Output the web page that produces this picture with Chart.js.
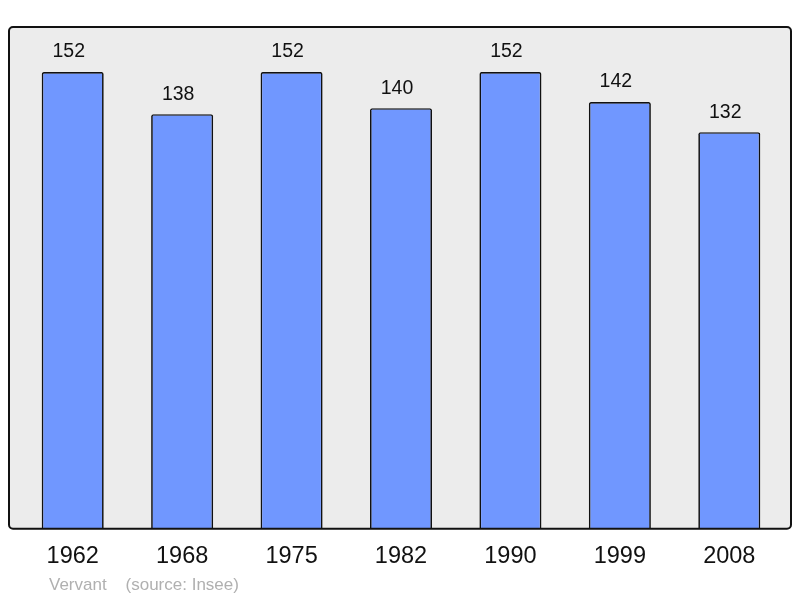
<!DOCTYPE html>
<html>
<head>
<meta charset="utf-8">
<script src="https://cdn.jsdelivr.net/npm/chart.js@4/dist/chart.umd.min.js"></script>
<style>
  body { margin: 0; background: #fff; }
</style>
</head>
<body>
<canvas id="popChart" width="800" height="598"></canvas>
<script>
// population data
const years = [ '1962', '1968', '1975', '1982', '1990', '1999', '2008' ];
const population = [ 152, 138, 152, 140, 152, 142, 132 ];
const yMax = 167;
const caption = 'Vervant    (source: Insee)';

// grey rounded frame behind the bars
const framePlugin = {
  id: 'frame',
  beforeDraw(chart) {
    const { ctx, chartArea } = chart;
    const x = chartArea.left - 9, y = chartArea.top;
    const w = chartArea.right - chartArea.left + 16, h = chartArea.bottom - chartArea.top;
    ctx.save();
    ctx.beginPath();
    ctx.roundRect(x, y, w, h, 4);
    ctx.fillStyle = '#ececec';
    ctx.fill();
    ctx.restore();
  },
  afterDatasetsDraw(chart) {
    const { ctx, chartArea } = chart;
    const x = chartArea.left - 9, y = chartArea.top;
    const w = chartArea.right - chartArea.left + 16, h = chartArea.bottom - chartArea.top;
    ctx.save();
    ctx.beginPath();
    ctx.roundRect(x, y, w, h, 4);
    ctx.lineWidth = 2;
    ctx.strokeStyle = '#111';
    ctx.stroke();
    // values above bars
    ctx.font = '19.5px "Liberation Sans", Arial, sans-serif';
    ctx.fillStyle = '#111';
    ctx.textAlign = 'center';
    ctx.textBaseline = 'middle';
    chart.getDatasetMeta(0).data.forEach((bar, i) => {
      ctx.fillText(population[ i ], bar.x - 4, bar.y - 20);
    });
    // source caption
    ctx.font = '17px "Liberation Sans", Arial, sans-serif';
    ctx.fillStyle = '#b0b0b0';
    ctx.textAlign = 'left';
    ctx.fillText(caption, chartArea.left + 31, 585);
    ctx.restore();
  }
};

const popChart = new Chart(document.getElementById('popChart'), {
  type: 'bar',
  data: {
    labels: years,
    datasets: [ {
      data: population,
      backgroundColor: '#7097ff',
      borderColor: '#111',
      borderWidth: 1.7,
      borderRadius: { topLeft: 2, topRight: 2 },
      borderSkipped: 'bottom',
      categoryPercentage: 1,
      barPercentage: 0.567
    } ]
  },
  options: {
    responsive: false,
    animation: false,
    layout: { padding: { left: 18, right: 16, top: 27, bottom: 21 } },
    plugins: {
      legend: { display: false },
      tooltip: { enabled: false }
    },
    scales: {
      x: {
        grid: { display: false },
        border: { display: false },
        ticks: {
          color: '#111',
          padding: 6,
          font: { family: '"Liberation Sans", Arial, sans-serif', size: 23.5 }
        }
      },
      y: {
        display: false,
        min: 0,
        max: yMax
      }
    }
  },
  plugins: [ framePlugin ]
});
</script>
</body>
</html>
